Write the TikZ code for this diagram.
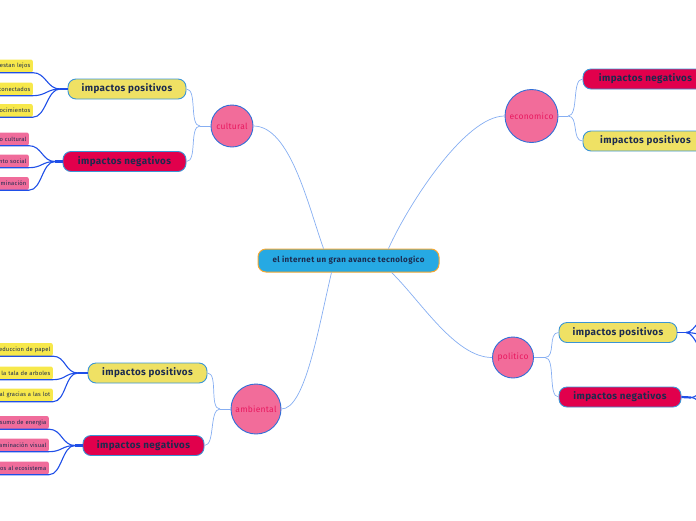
\documentclass[tikz,border=0pt]{standalone}
\usepackage{fontspec}
\setmainfont{Fira Sans}
\newfontfamily\centralfont[LetterSpace=5]{Fira Sans}
\newfontfamily\boxfont[LetterSpace=4]{Fira Sans}
\newfontfamily\topicfont[LetterSpace=3]{Fira Sans}
\newfontfamily\leaffont[LetterSpace=3]{Fira Sans}
\definecolor{cpink}{HTML}{F26C9A}
\definecolor{cpinktext}{HTML}{E8185F}
\definecolor{cborder}{HTML}{2F6FD8}
\definecolor{cyellow}{HTML}{EFE164}
\definecolor{cred}{HTML}{E1004C}
\definecolor{cboxborder}{HTML}{3A95D6}
\definecolor{ctext}{HTML}{1C2B4F}
\definecolor{ccentral}{HTML}{26A9E3}
\definecolor{corange}{HTML}{F4A832}
\definecolor{cline}{HTML}{86AEF2}
\definecolor{cleafline}{HTML}{1F4FE8}
\definecolor{cleafyellow}{HTML}{F7E84B}
\definecolor{cleafpink}{HTML}{F06C9B}
\tikzset{
  central/.style={draw=corange, line width=1pt, fill=ccentral, rounded corners=8pt, minimum width=181pt, minimum height=23pt, inner sep=0pt, font=\centralfont\fontsize{8}{9}\selectfont\bfseries, text=ctext},
  topic/.style={circle, draw=cborder, line width=0.9pt, fill=cpink, text=cpinktext, inner sep=0pt, font=\topicfont\fontsize{8.5}{9}\selectfont},
  subbox/.style={draw=cboxborder, line width=0.9pt, rounded corners=8pt, minimum height=20pt, inner sep=0pt, font=\boxfont\fontsize{9.8}{11}\selectfont\bfseries, text=ctext},
  posbox/.style={subbox, fill=cyellow},
  negbox/.style={subbox, fill=cred},
  leaf/.style={rounded corners=2pt, minimum height=13pt, inner xsep=2.5pt, inner ysep=0pt, text width=100pt, align=right, font=\leaffont\fontsize{5.8}{6.5}\selectfont, text=ctext, anchor=east},
  leafpos/.style={leaf, fill=cleafyellow},
  leafneg/.style={leaf, fill=cleafpink},
  link/.style={draw=cline, line width=0.7pt},
  fan/.style={draw=cleafline, line width=1.1pt},
  fanstub/.style={draw=cleafline, line width=2.2pt}
}
\begin{document}
\begin{tikzpicture}[x=1pt,y=-1pt]
\useasboundingbox (0,0) rectangle (696,520);
\clip (0,0) rectangle (696,520);

% central
\node[central] (c) at (348.5,260.5) {el internet un gran avance tecnologico};

% topics
\node[topic, minimum size=42pt] (cult) at (232,126) {cultural};
\node[topic, minimum size=53pt] (eco) at (531.5,116) {economico};
\node[topic, minimum size=41pt] (pol) at (513,357.5) {politico};
\node[topic, minimum size=50pt] (amb) at (256,409) {ambiental};

% main links
\draw[link] (cult.east) .. controls (290,126) and (308,205) .. ([xshift=-25pt]c.north);
\draw[link] (eco.west) .. controls (465,116) and (408,205) .. ([xshift=40pt]c.north);
\draw[link] (amb.east) .. controls (305,409) and (318,330) .. ([xshift=-17pt]c.south);
\draw[link] (pol.west) .. controls (455,357.5) and (420,300) .. ([xshift=43pt]c.south);

% sub boxes
\node[posbox, minimum width=118pt] (cpos) at (127,89) {impactos positivos};
\node[negbox, minimum width=123pt] (cneg) at (124.5,161.5) {impactos negativos};
\node[negbox, minimum width=125pt] (eneg) at (645.5,79) {impactos negativos};
\node[posbox, minimum width=125pt] (epos) at (645.5,141) {impactos positivos};
\node[posbox, minimum width=118pt] (ppos) at (618,332.5) {impactos positivos};
\node[negbox, minimum width=122pt] (pneg) at (620,397) {impactos negativos};
\node[posbox, minimum width=119pt] (apos) at (147.5,373) {impactos positivos};
\node[negbox, minimum width=121pt] (aneg) at (143.5,445.5) {impactos negativos};

% junctions topic -> boxes
\coordinate (jc) at (200,126);
\coordinate (je) at (568,116);
\coordinate (jp) at (545,357.5);
\coordinate (ja) at (220,409);
\draw[link] (cult.west) -- (jc);
\draw[link] (jc) .. controls +(-11,0) and +(11,0) .. (cpos.east);
\draw[link] (jc) .. controls +(-11,0) and +(11,0) .. (cneg.east);
\draw[link] (eco.east) -- (je);
\draw[link] (je) .. controls +(11,0) and +(-11,0) .. (eneg.west);
\draw[link] (je) .. controls +(11,0) and +(-11,0) .. (epos.west);
\draw[link] (pol.east) -- (jp);
\draw[link] (jp) .. controls +(11,0) and +(-11,0) .. (ppos.west);
\draw[link] (jp) .. controls +(11,0) and +(-11,0) .. (pneg.west);
\draw[link] (amb.west) -- (ja);
\draw[link] (ja) .. controls +(-11,0) and +(11,0) .. (apos.east);
\draw[link] (ja) .. controls +(-11,0) and +(11,0) .. (aneg.east);

% leaves cultural
\node[leafpos] (cp1) at (33,66) {estan lejos};
\node[leafpos] (cp2) at (33,89) {conectados};
\node[leafpos] (cp3) at (33,110.5) {ocimientos};
\node[leafneg] (cn1) at (29,139) {o cultural};
\node[leafneg] (cn2) at (29,161) {nto social};
\node[leafneg] (cn3) at (29,183.5) {minación};
% leaves ambiental
\node[leafpos] (ap1) at (53,349.5) {educcion de papel};
\node[leafpos] (ap2) at (53,373) {la tala de arboles};
\node[leafpos] (ap3) at (53,395) {al gracias a las lot};
\node[leafneg] (an1) at (49,422.5) {sumo de energia};
\node[leafneg] (an2) at (49,445) {aminación visual};
\node[leafneg] (an3) at (49,468) {os al ecosistema};

% fans
\coordinate (fcp) at (60,89);
\coordinate (fcn) at (55,161.5);
\coordinate (fap) at (78,373);
\coordinate (fan) at (75,445.5);
\draw[fan] (cpos.west) -- (fcp);
\draw[fanstub] (cneg.west) -- (fcn);
\draw[fan] (apos.west) -- (fap);
\draw[fanstub] (aneg.west) -- (fan);
\foreach \j/\l in {fcp/cp1,fcp/cp2,fcp/cp3,fcn/cn1,fcn/cn2,fcn/cn3,fap/ap1,fap/ap2,fap/ap3,fan/an1,fan/an2,fan/an3}{
  \draw[fan] (\j) .. controls +(-13,0) and +(13,0) .. (\l.south east) -- (\l.south west);
}

% politico fans (leaves off the page)
\coordinate (fpp) at (686,332.5);
\coordinate (fpn) at (691,397.5);
\coordinate (pl1) at (712,310);
\coordinate (pl2) at (712,336);
\coordinate (pl3) at (712,362);
\coordinate (pl4) at (712,384);
\coordinate (pl5) at (712,411);
\draw[fan] (ppos.east) -- (fpp);
\draw[fanstub] (pneg.east) -- (fpn);
\foreach \l in {pl1,pl2,pl3}{
  \draw[fan] (fpp) .. controls +(10,0) and +(-10,0) .. (\l);
}
\foreach \l in {pl4,pl5}{
  \draw[fan] (fpn) .. controls +(8,0) and +(-8,0) .. (\l);
}
\end{tikzpicture}
\end{document}
